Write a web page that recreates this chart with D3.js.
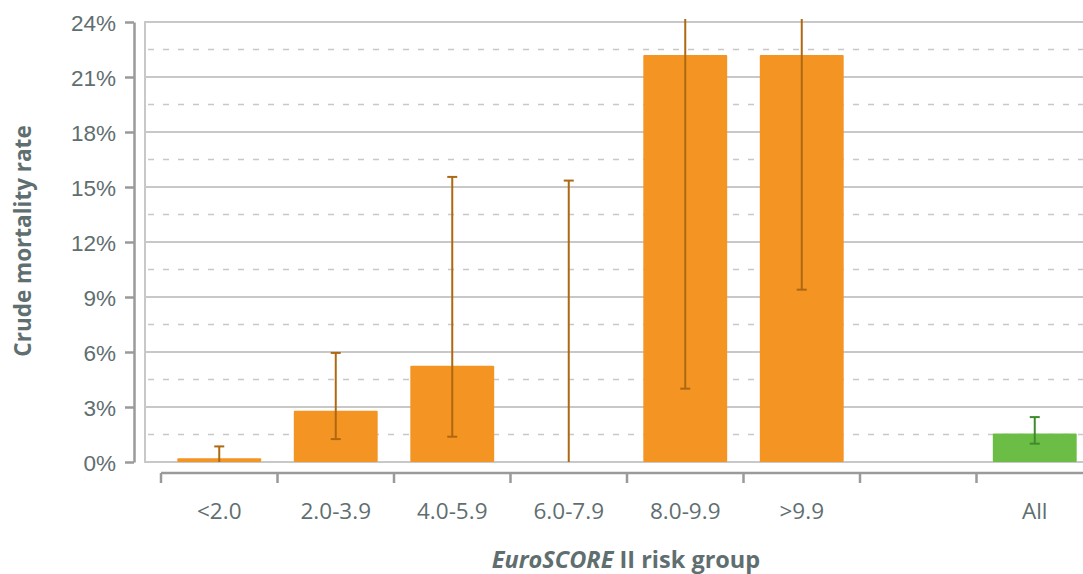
<!DOCTYPE html>
<html>
<head>
<meta charset="utf-8">
<script src="https://cdn.jsdelivr.net/npm/d3@7"></script>
<style>
  html, body { margin: 0; padding: 0; background: #fff; }
  svg { display: block; font-family: "Open Sans", "Noto Sans", sans-serif; }
</style>
</head>
<body>
<svg id="chart" width="1083" height="574"></svg>
<script>
// Crude mortality by EuroSCORE II risk group, with 95% confidence intervals
const categories = ["<2.0", "2.0-3.9", "4.0-5.9", "6.0-7.9", "8.0-9.9", ">9.9", "", "All"];
const rates      = [0.2, 2.8, 5.25, 0.0, 22.2, 22.2, null, 1.55];
const ciLower    = [0.0, 1.25, 1.38, 0.0, 4.0, 9.4, null, 1.0];
const ciUpper    = [0.85, 5.95, 15.55, 15.35, 40.0, 40.0, null, 2.45];
const yTicks     = [0, 3, 6, 9, 12, 15, 18, 21, 24];
const yHalfTicks = [1.5, 4.5, 7.5, 10.5, 13.5, 16.5, 19.5, 22.5];

const svg = d3.select("#chart");
const textColor = "#5f6e6f";
const axisColor = "#9a9a9a";
const gridColor = "#c8c8c8";
const labelSize = 22.5;

const plotLeft = 145, plotRight = 1083;
const y = d3.scaleLinear().domain([0, 24]).range([462, 22]);
const x = d3.scaleBand().domain(d3.range(categories.length)).range([161, 1093]).paddingInner(0.28).paddingOuter(0.14);

// Gridlines: solid at labelled ticks, dashed halfway between
svg.append("g").selectAll("line").data(yTicks).join("line")
  .attr("x1", plotLeft).attr("x2", plotRight)
  .attr("y1", d => y(d)).attr("y2", d => y(d))
  .attr("stroke", gridColor).attr("stroke-width", 2);
svg.append("g").selectAll("line").data(yHalfTicks).join("line")
  .attr("x1", plotLeft + 3).attr("x2", plotRight)
  .attr("y1", d => y(d)).attr("y2", d => y(d))
  .attr("stroke", gridColor).attr("stroke-width", 1.5)
  .attr("stroke-dasharray", "6,9");
svg.append("line")
  .attr("x1", plotLeft).attr("x2", plotLeft)
  .attr("y1", y(24) - 1).attr("y2", y(0) + 1)
  .attr("stroke", gridColor).attr("stroke-width", 2);

// Bars
const barData = categories.map((c, i) => ({ i, c, v: rates[i], lo: ciLower[i], hi: ciUpper[i] }))
  .filter(d => d.v !== null);

svg.append("g").selectAll("rect").data(barData).join("rect")
  .attr("x", d => x(d.i))
  .attr("width", x.bandwidth())
  .attr("y", d => y(d.v))
  .attr("height", d => y(0) - y(d.v))
  .attr("rx", 1)
  .attr("fill", d => d.c === "All" ? "#6cbd45" : "#f39423");

// Confidence intervals, clipped just above the top of the scale
svg.append("clipPath").attr("id", "ciClip")
  .append("rect").attr("x", 0).attr("y", y(24) - 3).attr("width", 1083).attr("height", 574);

const ci = svg.append("g").attr("clip-path", "url(#ciClip)")
  .selectAll("g").data(barData).join("g")
  .attr("stroke", d => d.c === "All" ? "#3f8a2c" : "#ae6812")
  .attr("stroke-width", 2);
const cx = d => x(d.i) + x.bandwidth() / 2;
const capW = 5;
ci.append("line")
  .attr("x1", cx).attr("x2", cx)
  .attr("y1", d => y(d.lo)).attr("y2", d => y(d.hi));
ci.filter(d => d.hi <= 24).append("line")
  .attr("x1", d => cx(d) - capW).attr("x2", d => cx(d) + capW)
  .attr("y1", d => y(d.hi)).attr("y2", d => y(d.hi));
ci.filter(d => d.lo > 0).append("line")
  .attr("x1", d => cx(d) - capW).attr("x2", d => cx(d) + capW)
  .attr("y1", d => y(d.lo)).attr("y2", d => y(d.lo));

// Y axis
const yAxis = svg.append("g").attr("transform", "translate(134,0)")
  .call(d3.axisLeft(y).tickValues(yTicks).tickFormat(d => d + "%").tickSizeInner(9).tickSizeOuter(0).tickPadding(9));
yAxis.select(".domain").attr("stroke", axisColor).attr("stroke-width", 2.5);
yAxis.selectAll(".tick line").attr("stroke", axisColor).attr("stroke-width", 2.5);
yAxis.selectAll(".tick text").attr("fill", textColor).attr("font-size", labelSize).attr("dy", "0.36em");

// X axis: boundary ticks between groups, labels centred in each band
const xAxisY = 473;
const boundaries = d3.range(categories.length + 1).map(i => 161 + i * x.step());
const xg = svg.append("g");
xg.append("line")
  .attr("x1", boundaries[0]).attr("x2", 1083)
  .attr("y1", xAxisY).attr("y2", xAxisY)
  .attr("stroke", axisColor).attr("stroke-width", 2.5);
xg.selectAll("line.tk").data(boundaries).join("line").attr("class", "tk")
  .attr("x1", d => d).attr("x2", d => d)
  .attr("y1", xAxisY).attr("y2", xAxisY + 10)
  .attr("stroke", axisColor).attr("stroke-width", 2.5);
xg.selectAll("text").data(categories.map((c, i) => ({ c, i }))).join("text")
  .attr("x", d => x(d.i) + x.bandwidth() / 2)
  .attr("y", 519)
  .attr("text-anchor", "middle")
  .attr("fill", textColor).attr("font-size", labelSize)
  .text(d => d.c);

// Axis titles
svg.append("text")
  .attr("transform", "translate(31,241) rotate(-90)")
  .attr("text-anchor", "middle")
  .attr("fill", textColor).attr("font-size", 22.5).attr("font-weight", "bold")
  .text("Crude mortality rate");

const xt = svg.append("text")
  .attr("x", 626).attr("y", 568)
  .attr("text-anchor", "middle")
  .attr("fill", textColor).attr("font-size", 23.5).attr("font-weight", "bold");
xt.append("tspan").attr("font-style", "italic").text("EuroSCORE");
xt.append("tspan").text(" II risk group");
</script>
</body>
</html>
